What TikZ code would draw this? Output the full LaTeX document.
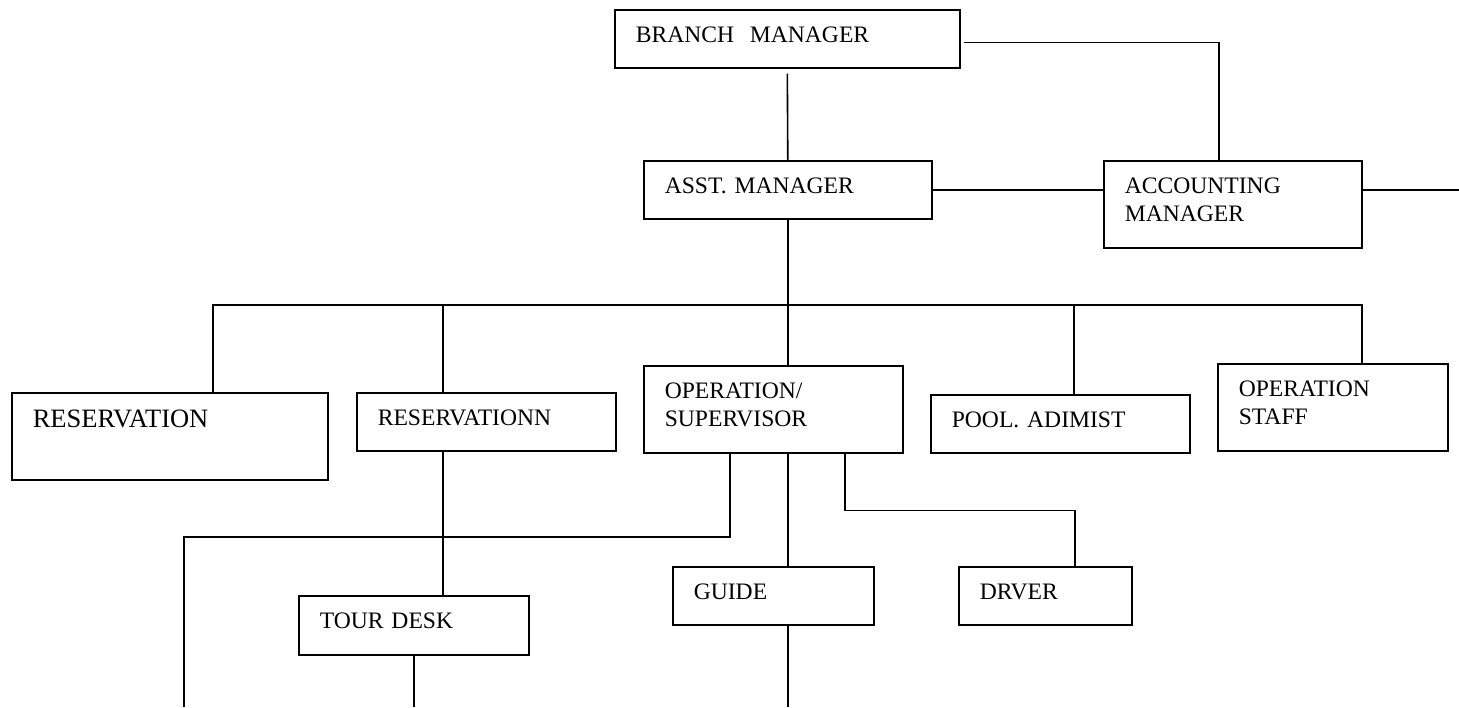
\documentclass[tikz,border=0pt]{standalone}
\usepackage{fontspec}
\setmainfont{Liberation Serif}

\begin{document}
\begin{tikzpicture}[x=1pt, y=-1pt, line width=1.6pt, state/.style={rectangle, draw, anchor=north west, align=left, inner xsep=21pt, inner ysep=0pt, text height=33pt, text depth=25pt, font=\fontsize{23.6}{28}\selectfont}, twoline/.style={text depth=54pt}]
	\useasboundingbox (0,0) rectangle (1459,707);
	\node[state, text width=303pt] (A) at (614,9) {BRANCH~ MANAGER};
	\node[state, text width=246pt] (B) at (643,160) {ASST. MANAGER};
	\node[state, twoline, text width=216pt] (C) at (1103,160) {ACCOUNTING\\MANAGER};
	\node[state, text width=274pt, text height=35pt, text depth=52pt, font=\fontsize{26.5}{32}\selectfont] (D) at (11,392) {RESERVATION};
	\node[state, text width=217pt] (E) at (356,392) {RESERVATIONN};
	\node[state, twoline, text width=217pt] (F) at (643,365) {OPERATION/\\SUPERVISOR};
	\node[state, text width=217pt] (G) at (930,394) {POOL. ADIMIST};
	\node[state, twoline, text width=188pt] (H) at (1217,363) {OPERATION\\STAFF};
	\node[state, text width=188pt, text depth=26pt] (I) at (298,595) {TOUR DESK};
	\node[state, text width=159pt] (J) at (672,566) {GUIDE};
	\node[state, text width=131pt] (K) at (958,566) {DRVER};
	\coordinate (bus) at (0,305);
	\coordinate (split) at (0,537);
	\coordinate (end) at (184,707);
	\draw[shorten <=5pt] (A.south) -- (B.north);
	\draw ([shift={(3,3.5)}]A.east) -| ([xshift=-14pt]C.north);
	\draw (B.east) -- (B.east -| C.west);
	\draw (C.east |- B.east) -- +(98,0);
	\draw (B.south) -- (B.south |- F.north);
	\draw ([xshift=43pt]D.north) |- ([xshift=29pt]H.north |- bus) -- ([xshift=29pt]H.north);
	\draw ([xshift=-43.5pt]E.north) -- ([xshift=-43.5pt]E.north |- bus);
	\draw ([xshift=13.5pt]G.north) -- ([xshift=13.5pt]G.north |- bus);
	\draw ([xshift=-43.5pt]E.south) -- ([xshift=-43.5pt]E.south |- I.north);
	\draw (end) |- ([xshift=-43.5pt]F.south |- split) -- ([xshift=-43.5pt]F.south);
	\draw ([xshift=14.5pt]F.south) -- ([xshift=14.5pt]J.north);
	\draw ([xshift=14.5pt]J.south) -- ([xshift=14.5pt]J.south |- end);
	\draw (I.south) -- (I.south |- end);
	\draw ([xshift=71.5pt]F.south) -- ++(0,57) -| ([xshift=29.5pt]K.north);
\end{tikzpicture}
\end{document}
